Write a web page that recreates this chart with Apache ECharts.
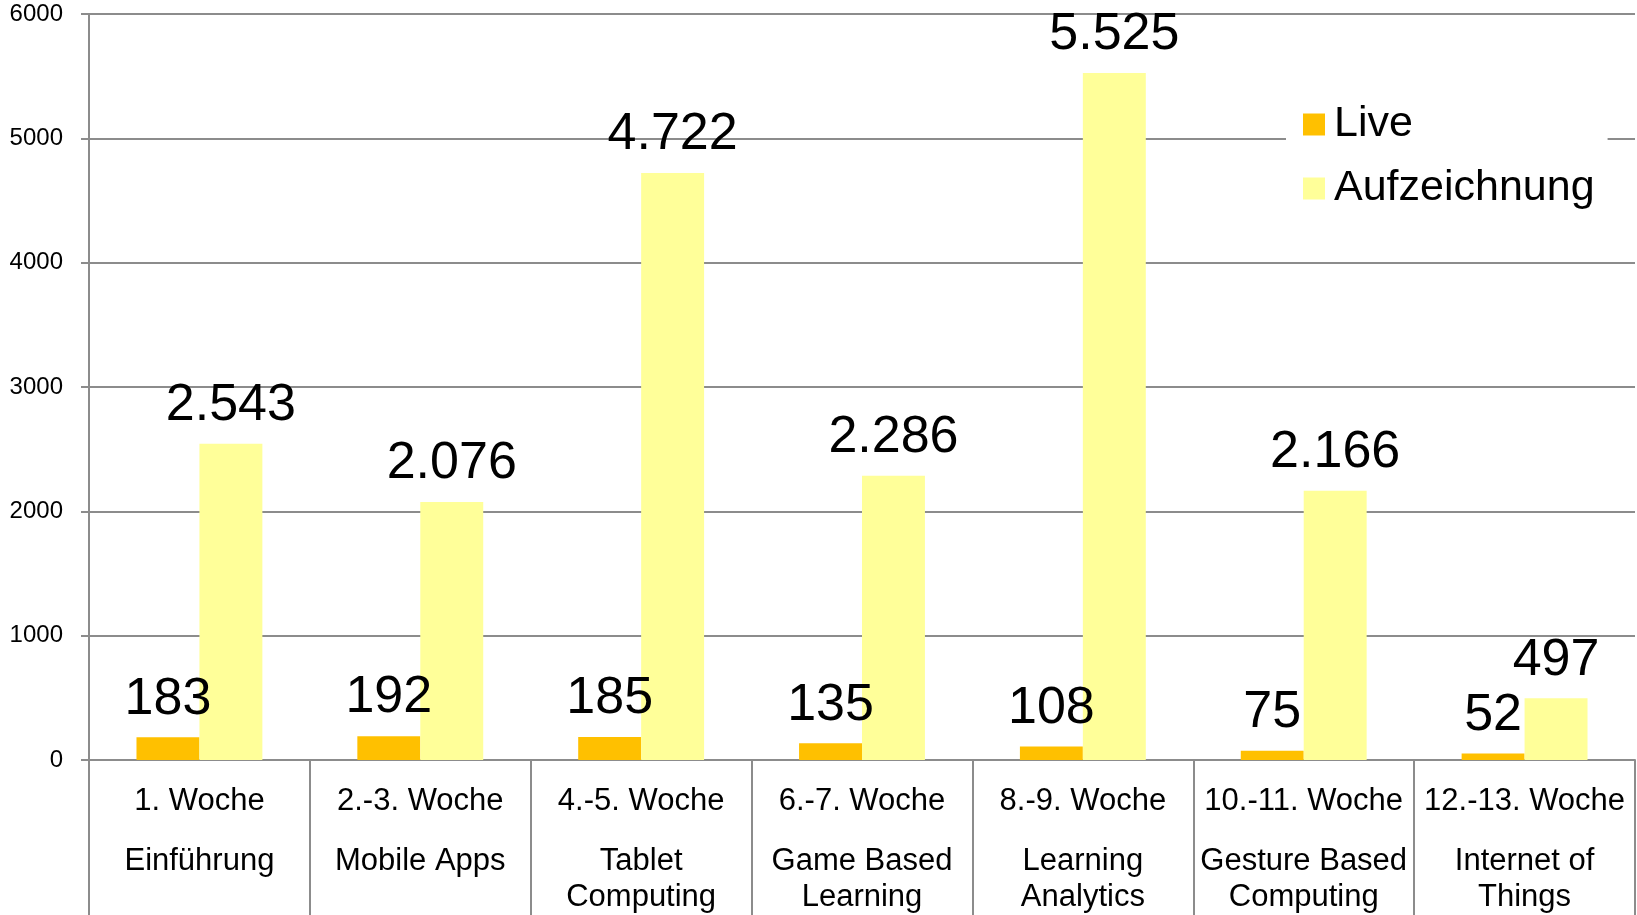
<!DOCTYPE html>
<html>
<head>
<meta charset="utf-8">
<title>Live / Aufzeichnung</title>
<script src="https://cdn.jsdelivr.net/npm/echarts@6/dist/echarts.min.js"></script>
<style>
  html, body { margin: 0; padding: 0; background: #fff; }
  #chart { width: 1637px; height: 915px; }
</style>
</head>
<body>
<div id="chart"></div>
<script>
// Kategorien (Woche + Thema)
const categories = [
  '1. Woche\nEinführung',
  '2.-3. Woche\nMobile Apps',
  '4.-5. Woche\nTablet\nComputing',
  '6.-7. Woche\nGame Based\nLearning',
  '8.-9. Woche\nLearning\nAnalytics',
  '10.-11. Woche\nGesture Based\nComputing',
  '12.-13. Woche\nInternet of\nThings'
];

// Zugriffe
const liveValues = [183, 192, 185, 135, 108, 75, 52];
const recordingValues = [2543, 2076, 4722, 2286, 5525, 2166, 497];

// y-Achse
const yMin = 0;
const yMax = 6000;
const yStep = 1000;

const font = '"Liberation Sans", Arial, sans-serif';
const gray = '#8c8c8c';

// 2543 -> "2.543"
function deNumber(v) {
  return String(v).replace(/\B(?=(\d{3})+(?!\d))/g, '.');
}

const barLabel = {
  show: true,
  position: 'top',
  distance: 12,
  color: '#000',
  fontFamily: font,
  fontSize: 52,
  formatter: p => deNumber(p.value)
};

const chart = echarts.init(document.getElementById('chart'));

chart.setOption({
  animation: false,
  textStyle: { fontFamily: font },
  grid: { left: 89, right: 2, top: 14, bottom: 155, containLabel: false },
  legend: {
    orient: 'vertical',
    left: 1286,
    top: 93,
    padding: [10, 13, 10, 17],
    backgroundColor: '#fff',
    itemWidth: 22,
    itemHeight: 22,
    itemGap: 21,
    icon: 'rect',
    textStyle: { fontSize: 43, color: '#000', fontFamily: font, padding: [0, 0, 0, 4] },
    data: ['Live', 'Aufzeichnung']
  },
  xAxis: {
    type: 'category',
    data: categories,
    axisLine: { lineStyle: { color: gray, width: 2 } },
    axisTick: { show: true, length: 160, lineStyle: { color: gray, width: 2 } },
    axisLabel: {
      interval: 0,
      margin: 0,
      color: '#000',
      formatter: v => {
        const lines = v.split('\n');
        return '{a|' + lines[0] + '}\n' + lines.slice(1).map(l => '{b|' + l + '}').join('\n');
      },
      rich: {
        a: { fontSize: 31, lineHeight: 83, fontFamily: font, color: '#000' },
        b: { fontSize: 31, lineHeight: 36, fontFamily: font, color: '#000' }
      }
    }
  },
  yAxis: {
    type: 'value',
    min: yMin,
    max: yMax,
    interval: yStep,
    axisLine: { show: true, lineStyle: { color: gray, width: 2 } },
    axisTick: { show: true, length: 8, lineStyle: { color: gray, width: 2 } },
    axisLabel: { margin: 26, fontSize: 24, color: '#000', fontFamily: font, formatter: v => String(v) },
    splitLine: { show: true, lineStyle: { color: gray, width: 2 } }
  },
  series: [
    {
      name: 'Live',
      type: 'bar',
      data: liveValues,
      itemStyle: { color: '#FFC000' },
      barGap: '0%',
      barCategoryGap: '43%',
      label: barLabel
    },
    {
      name: 'Aufzeichnung',
      type: 'bar',
      data: recordingValues,
      itemStyle: { color: '#FFFF99' },
      label: barLabel
    }
  ]
});
</script>
</body>
</html>
